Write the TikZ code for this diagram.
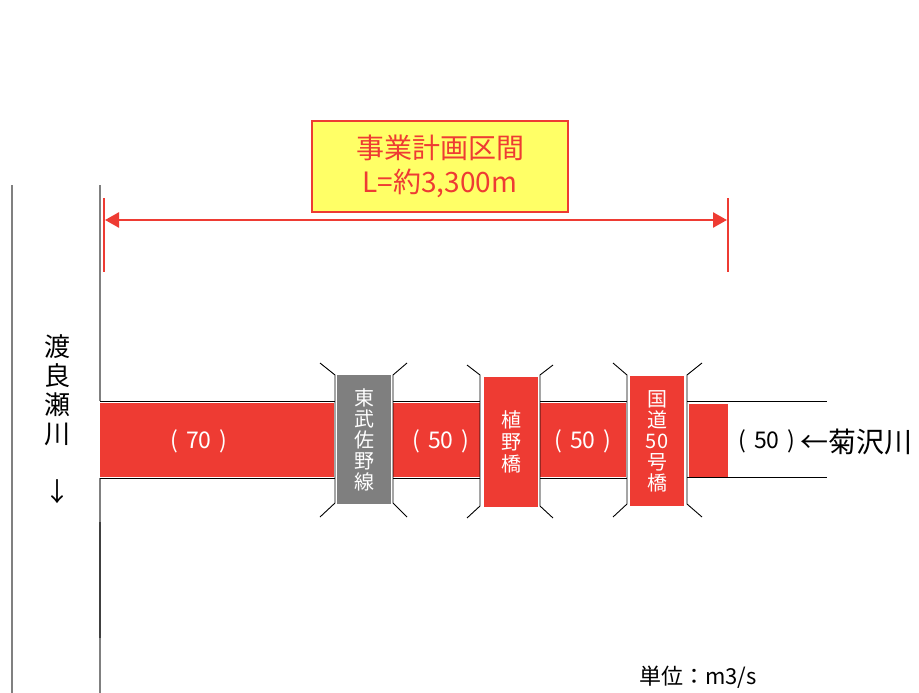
\documentclass[tikz,border=0pt]{standalone}
\usepackage{fontspec}
\setmainfont{Noto Sans CJK JP}
\usetikzlibrary{arrows.meta}
\definecolor{rred}{RGB}{238,59,51}
\definecolor{ylw}{RGB}{255,255,102}
\definecolor{bgray}{RGB}{127,127,127}
\definecolor{lgray}{RGB}{128,128,128}
\newcommand{\flw}[1]{(\hspace{8pt}#1\hspace{8pt})}
\begin{document}
\begin{tikzpicture}[x=1pt,y=-1pt,
  riverline/.style={draw=lgray,line width=1.3},
  bankline/.style={draw=black,line width=1},
  band/.style={fill=rred},
  bracket/.style={draw=black,line width=0.9},
  bridgebox/.style={minimum width=54,minimum height=130,inner sep=0,text=white,align=center,font=\fontsize{20}{21}\selectfont},
  flowlbl/.style={text=white,font=\fontsize{23}{26}\selectfont,inner sep=0},
  dimline/.style={draw=rred,line width=2.5}
]
\useasboundingbox (0,0) rectangle (919,693);
% river lines
\draw[riverline] (12,185) -- (12,693);
\draw[riverline] (100,185) -- (100,401);
\draw[riverline] (100,478) -- (100,693);
\draw[draw=black!75,line width=1.3] (100,522) -- (100,638);
% bands
\fill[band] (100,403) rectangle (334,477);
\draw[bankline] (100,401) -- (335,401) (100,478) -- (335,478);
\fill[band] (393,403) rectangle (480,477);
\draw[bankline] (393,401) -- (480,401) (393,478) -- (480,478);
\fill[band] (540,403) rectangle (626,477);
\draw[bankline] (540,401) -- (627,401) (540,478) -- (627,478);
\fill[band] (689,404) rectangle (728,477);
\draw[bankline] (687,401) -- (827,401) (687,477) -- (827,477);
% bridges
\node[bridgebox,fill=bgray,minimum height=129] (b1) at (364,439.5) {東\\武\\佐\\野\\線};
\node[bridgebox,fill=rred,font=\fontsize{20}{22}\selectfont] (b2) at (511,442) {植\\野\\橋};
\node[bridgebox,fill=rred] (b3) at (657,441) {国\\道\\50\\号\\橋};
% brackets
\draw[bracket] (320,363) -- (335,375) -- (335,503) -- (320,517);
\draw[bracket] (407,363) -- (393,375) -- (393,503) -- (407,517);
\draw[bracket] (467,365) -- (480,375) -- (480,506) -- (467,518);
\draw[bracket] (553,365) -- (540,375) -- (540,506) -- (553,518);
\draw[bracket] (613,363) -- (627,375) -- (627,504) -- (613,517);
\draw[bracket] (702,363) -- (687,375) -- (687,504) -- (702,517);
% flow labels
\node[flowlbl] (f1) at (199,441) {\flw{70}};
\node[flowlbl] (f2) at (441,441) {\flw{50}};
\node[flowlbl] (f3) at (583,441) {\flw{50}};
\node[flowlbl,text=black] (f4) at (767,441) {\flw{50}};
\node[anchor=west,inner sep=0,font=\fontsize{28}{30}\selectfont] (kiku) at (800,442) {←菊沢川};
% Watarase
\node[align=center,inner sep=0,font=\fontsize{26}{29}\selectfont] (wat) at (58,390) {渡\\良\\瀬\\川};
\node[inner sep=0,font=\fontsize{26}{29}\selectfont] (wat2) at (58,492) {↓};
% dimension
\coordinate (dl) at (105,220);
\coordinate (dr) at (727,220);
\draw[dimline] (104,198) -- (104,272);
\draw[dimline] (728,198) -- (728,272);
\draw[dimline,{Triangle[length=14,width=15]}-{Triangle[length=14,width=15]}] (dl) -- (dr);
\node[draw=rred,line width=2,fill=ylw,text=rred,minimum width=256,minimum height=91,align=center,font=\fontsize{28}{34}\selectfont] (title) at (440,166.5) {事業計画区間\\L=約3,300m};
% unit
\node[inner sep=0,font=\fontsize{22}{24}\selectfont] (unit) at (698,677) {単位：m3/s};
\end{tikzpicture}
\end{document}
